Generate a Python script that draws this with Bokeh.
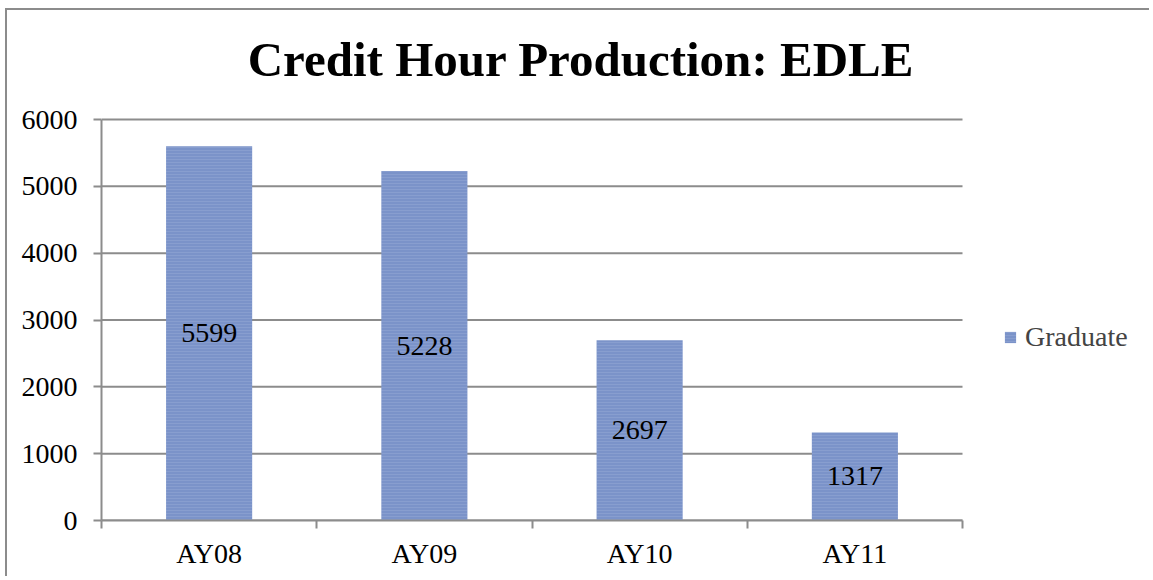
from bokeh.plotting import figure
from bokeh.models import Range1d, FixedTicker, Label, Legend, LegendItem, ColumnDataSource
from bokeh.core.properties import value
from bokeh.embed import file_html
from bokeh.resources import INLINE

categories = ["AY08", "AY09", "AY10", "AY11"]
graduate = [5599, 5228, 2697, 1317]
y_ticks = [0, 1000, 2000, 3000, 4000, 5000, 6000]
title_text = "Credit Hour Production: EDLE"
series_name = "Graduate"

n = len(categories)
y_top = y_ticks[-1]
xpos = [i + 0.5 for i in range(n)]
src = ColumnDataSource(dict(
    x=xpos,
    top=graduate,
    mid=[v / 2 for v in graduate],
    lbl=[str(v) for v in graduate],
))
grid_src = ColumnDataSource(dict(y=y_ticks, x0=[0] * len(y_ticks), x1=[n] * len(y_ticks)))

GRAY = "#8c8c8c"
FONT = "Liberation Serif"
BAR = "#7b93c9"
FS = "28px"

# frame spans the title and legend areas; axes and grid are bounded to the data span
x_end = n * 1050 / 861
y_end = y_top * 510 / 401

p = figure(width=1144, height=568, output_backend="svg", toolbar_location=None,
           x_range=Range1d(0, x_end), y_range=Range1d(0, y_end),
           min_border_left=94, min_border_right=0, min_border_top=0, min_border_bottom=58)
p.margin = (8, 0, 0, 5)
p.styles = {"border-top": "2px solid #8c8c8c", "border-left": "2px solid #8c8c8c"}
p.outline_line_color = None
p.background_fill_color = "white"
p.border_fill_color = "white"
p.xgrid.visible = False
p.ygrid.visible = False

p.segment(x0="x0", x1="x1", y0="y", y1="y", source=grid_src, line_color=GRAY, line_width=2)

r = p.vbar(x="x", top="top", width=0.4, bottom=0, source=src, fill_color=BAR, line_color=None,
           hatch_pattern="-", hatch_color="white", hatch_alpha=0.10, hatch_scale=3)
p.text(x="x", y="mid", text="lbl", source=src, text_align="center", text_baseline="middle",
       text_font=value(FONT), text_font_size=FS, text_color="black")

p.add_layout(Label(x=479.5, y=461, x_units="screen", y_units="screen", text=title_text,
                   text_font=FONT, text_font_size="49px", text_font_style="bold",
                   text_align="center", text_baseline="alphabetic", text_color="black"))

# x axis
p.xaxis.bounds = (0, n)
p.xaxis.ticker = FixedTicker(ticks=xpos, minor_ticks=list(range(n + 1)))
p.xaxis.major_label_overrides = {x: c for x, c in zip(xpos, categories)}
p.xaxis.major_tick_out = 0
p.xaxis.major_tick_in = 0
p.xaxis.minor_tick_out = 8
p.xaxis.minor_tick_in = 0
p.xaxis.minor_tick_line_color = GRAY
p.xaxis.minor_tick_line_width = 2
p.xaxis.axis_line_color = GRAY
p.xaxis.axis_line_width = 2
p.xaxis.major_label_standoff = 9
p.xaxis.major_label_text_font = FONT
p.xaxis.major_label_text_font_size = FS
p.xaxis.major_label_text_color = "black"

# y axis
p.yaxis.bounds = (0, y_top)
p.yaxis.ticker = FixedTicker(ticks=y_ticks, minor_ticks=[])
p.yaxis.major_tick_out = 8
p.yaxis.major_tick_in = 0
p.yaxis.major_tick_line_color = GRAY
p.yaxis.major_tick_line_width = 2
p.yaxis.axis_line_color = GRAY
p.yaxis.axis_line_width = 2
p.yaxis.major_label_standoff = 16
p.yaxis.major_label_text_font = FONT
p.yaxis.major_label_text_font_size = FS
p.yaxis.major_label_text_color = "black"

legend = Legend(items=[LegendItem(label=series_name, renderers=[r])],
                location=(902, 167), padding=0, margin=0, spacing=0,
                glyph_width=14, glyph_height=14, label_height=14, label_standoff=8,
                label_text_font=FONT, label_text_font_size=FS,
                border_line_color=None, background_fill_alpha=0)
p.add_layout(legend, "center")

open("out.html", "w").write(file_html(p, INLINE))
